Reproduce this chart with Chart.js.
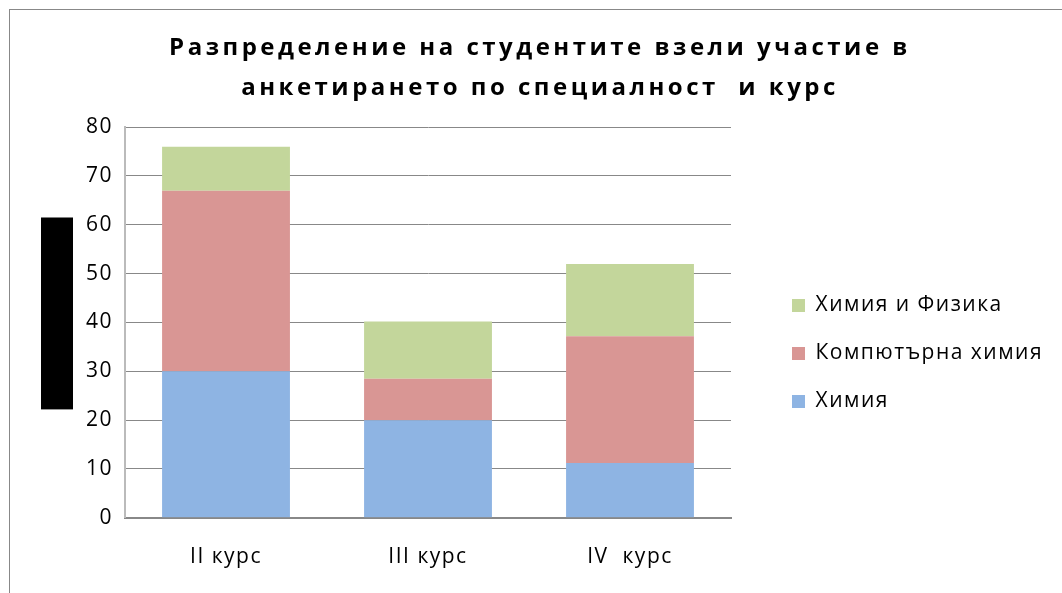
<!DOCTYPE html>
<html>
<head>
<meta charset="utf-8">
<script src="https://cdn.jsdelivr.net/npm/chart.js@4"></script>
<style>
  body { margin: 0; background: #fff; }
  #wrap {
    position: absolute; left: 9px; top: 9px;
    width: 1060px; height: 590px;
    border: 1px solid #888; box-sizing: border-box;
  }
</style>
</head>
<body>
<div id="wrap"><canvas id="myChart"></canvas></div>
<script>
const labels = ["II курс", "III курс", "IV  курс"];
const himiya = [30, 20, 11.2];
const kompHimiya = [37, 8.5, 26];
const himFizika = [9, 11.7, 14.8];
const yTicks = [0, 10, 20, 30, 40, 50, 60, 70, 80];

// black box over the axis title, letter spacing, legend/title nudge
const extras = {
  id: "extras",
  afterLayout(chart) {
    const lg = chart.legend;
    lg.left += 34; lg.right += 140;
    lg.top += 41; lg.bottom += 41;
    const tb = chart.titleBlock;
    tb.left += 27; tb.right += 27;
  },
  beforeDraw(chart) {
    chart.ctx.letterSpacing = "1.5px";
    const tb = chart.titleBlock;
    if (tb && !tb._wrapped) {
      const orig = tb.draw;
      tb.draw = function () {
        const c = this.ctx;
        c.save();
        c.letterSpacing = "3.5px";
        orig.apply(this, arguments);
        c.restore();
      };
      tb._wrapped = true;
    }
  },
  afterDraw(chart) {
    const ctx = chart.ctx;
    const y = chart.scales.y;
    ctx.letterSpacing = "0px";
    ctx.save();
    ctx.fillStyle = "#000";
    ctx.fillRect(31, y.getPixelForValue(61.5), 32, y.getPixelForValue(22.2) - y.getPixelForValue(61.5));
    ctx.restore();
  },
};

const data = {
  labels: labels,
  datasets: [
    { label: "Химия", data: himiya, backgroundColor: "#8EB4E3" },
    { label: "Компютърна химия", data: kompHimiya, backgroundColor: "#D99694" },
    { label: "Химия и Физика", data: himFizika, backgroundColor: "#C3D69B" },
  ],
};

const config = {
  type: "bar",
  data: data,
  plugins: [extras],
  options: {
    responsive: true,
    maintainAspectRatio: false,
    animation: false,
    layout: { padding: { left: 67, right: 119, top: 18, bottom: 1 } },
    datasets: { bar: { categoryPercentage: 1, barPercentage: 0.633 } },
    plugins: {
      title: {
        display: true,
        text: ["Разпределение на студентите взели участие в", "анкетирането по специалност  и курс"],
        font: { family: "'Open Sans'", size: 24, weight: "bold", lineHeight: 1.67 },
        color: "#000",
        padding: { top: 0, bottom: 19 },
      },
      legend: {
        position: "right",
        reverse: true,
        align: "center",
        labels: {
          boxWidth: 13, boxHeight: 13,
          padding: 27,
          color: "#000",
          font: { family: "'Open Sans'", size: 21 },
        },
      },
      tooltip: { enabled: false },
    },
    scales: {
      x: {
        stacked: true,
        grid: { display: false, drawTicks: false },
        border: { color: "#888", width: 2 },
        ticks: { color: "#000", padding: 27, font: { family: "'Open Sans'", size: 21 } },
      },
      y: {
        stacked: true,
        min: 0, max: 80,
        afterBuildTicks: (s) => { s.ticks = yTicks.map((v) => ({ value: v })); },
        grid: { color: "#888", lineWidth: 1, drawTicks: false },
        border: { color: "#bbb", width: 2 },
        ticks: { color: "#000", padding: 12, font: { family: "'Open Sans'", size: 21 } },
      },
    },
  },
};

const ctx = document.getElementById("myChart").getContext("2d");
new Chart(ctx, config);
</script>
</body>
</html>
